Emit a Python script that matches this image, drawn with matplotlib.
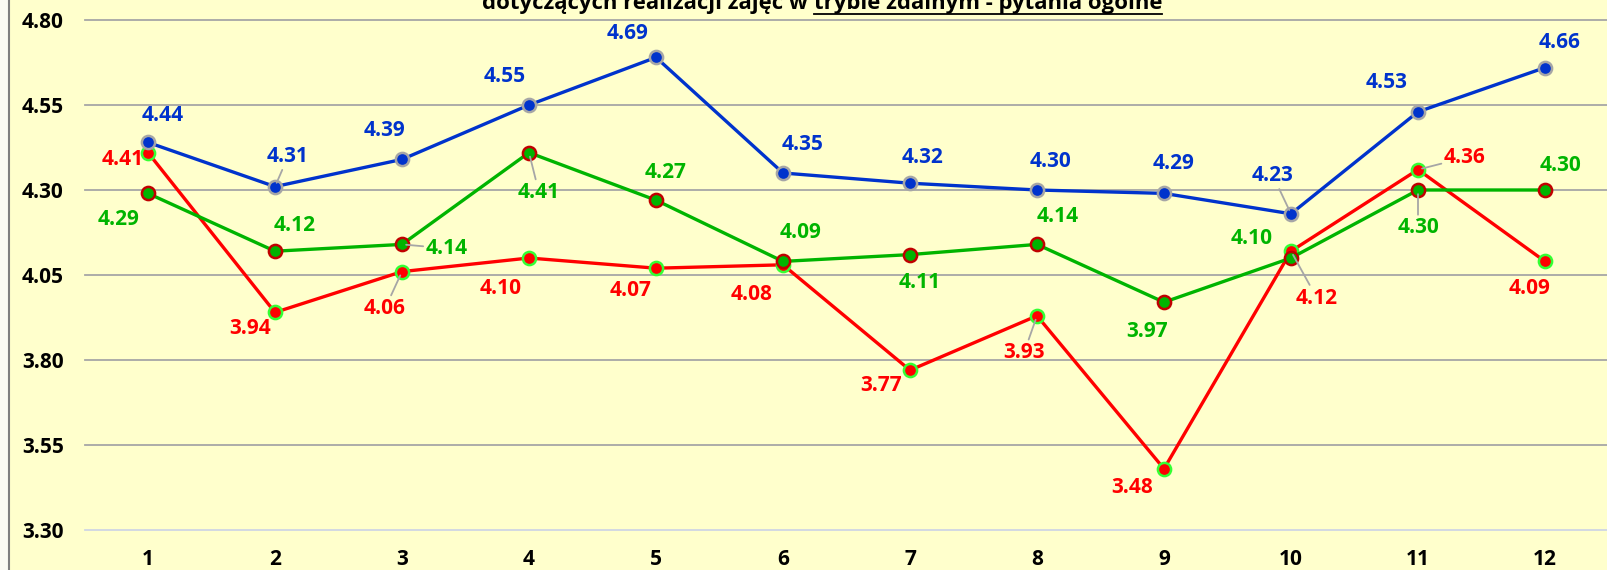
import numpy as np
import matplotlib
matplotlib.use("Agg")
import matplotlib.pyplot as plt
from matplotlib.lines import Line2D
from matplotlib.patches import Rectangle

# data
questions = ["1", "2", "3", "4", "5", "6", "7", "8", "9", "10", "11", "12"]
blue_vals = [4.44, 4.31, 4.39, 4.55, 4.69, 4.35, 4.32, 4.30, 4.29, 4.23, 4.53, 4.66]
green_vals = [4.29, 4.12, 4.14, 4.41, 4.27, 4.09, 4.11, 4.14, 3.97, 4.10, 4.30, 4.30]
red_vals = [4.41, 3.94, 4.06, 4.10, 4.07, 4.08, 3.77, 3.93, 3.48, 4.12, 4.36, 4.09]
y_ticks = [3.30, 3.55, 3.80, 4.05, 4.30, 4.55, 4.80]
title_a = "dotyczących realizacji zajęć w"
title_b = "trybie zdalnym - pytania ogólne"

# label placement (pixels: dx right, dy down) and leader line flags
blue_off = [(15, -27), (13, -30), (-17, -29), (-24, -28), (-28, -24), (20, -28),
            (13, -26), (13, -28), (10, -30), (-18, -38), (-31, -29), (15, -25)]
blue_lead = [0, 1, 0, 0, 0, 0, 0, 0, 0, 1, 0, 0]
green_off = [(-29, 26), (20, -26), (45, 4), (10, 40), (10, -28), (18, -29),
             (10, 28), (21, -28), (-17, 29), (-39, -20), (0, 38), (15, -24)]
green_lead = [0, 0, 1, 1, 0, 0, 0, 0, 0, 0, 1, 0]
red_off = [(-25, 7), (-25, 16), (-17, 37), (-28, 30), (-25, 22), (-31, 30),
           (-29, 15), (-13, 37), (-32, 19), (26, 47), (47, -12), (-15, 27)]
red_lead = [0, 0, 1, 0, 0, 0, 0, 1, 0, 1, 1, 0]

BG = "#FFFFCC"
BLUE = "#0033CC"
GREEN = "#00B400"
RED = "#FF0000"
FONT = "Open Sans"

plt.rcParams['font.family'] = [FONT, 'DejaVu Sans']

W, H = 1607, 570
fig = plt.figure(figsize=(W / 100, H / 100), dpi=100, facecolor=BG)
ax = fig.add_axes([84.5 / W, 40 / H, 1524 / W, 510 / H])
ax.set_facecolor(BG)

x = np.arange(1, len(questions) + 1)
ax.set_xlim(0.5, 12.5)
ax.set_ylim(3.30, 4.80)

for t in y_ticks:
    col = "#CFD6E4" if t == y_ticks[0] else "#A6A6A6"
    ax.axhline(t, color=col, lw=1.3, zorder=1, clip_on=False)

for s in ax.spines.values():
    s.set_visible(False)

ax.set_xticks(x)
ax.set_xticklabels(questions)
ax.set_yticks(y_ticks)
ax.set_yticklabels(["%.2f" % t for t in y_ticks])
ax.tick_params(axis='both', length=0, labelsize=15)
ax.tick_params(axis='x', pad=14)
ax.tick_params(axis='y', pad=15)
for lab in ax.get_xticklabels() + ax.get_yticklabels():
    lab.set_fontweight('bold')


def draw_series(vals, color, face, edge, offs, leads, z):
    ax.plot(x, vals, color=color, lw=2.4, marker='o', ms=9.5,
            markerfacecolor=face, markeredgecolor=edge, markeredgewidth=1.8,
            zorder=z, clip_on=False)
    for xi, v, (dx, dy), ld in zip(x, vals, offs, leads):
        kw = {}
        if ld:
            kw['arrowprops'] = dict(arrowstyle='-', color='#A6A6A6', lw=1.3,
                                    shrinkA=0, shrinkB=3)
        ax.annotate("%.2f" % v, (xi, v), xytext=(dx, -dy),
                    textcoords='offset pixels', ha='center', va='center',
                    fontsize=15, fontweight='bold', color=color,
                    zorder=z + 5, annotation_clip=False, **kw)


draw_series(red_vals, RED, RED, "#33FF33", red_off, red_lead, 3)
draw_series(green_vals, GREEN, GREEN, "#C00000", green_off, green_lead, 4)
draw_series(blue_vals, BLUE, BLUE, "#A6A6A6", blue_off, blue_lead, 5)

# left border like the source sheet
fig.add_artist(Rectangle((0, 0), 7.5 / W, 1, transform=fig.transFigure,
                         facecolor="#FBFBF3", edgecolor='none'))
fig.add_artist(Line2D([8.5 / W, 8.5 / W], [0, 1], transform=fig.transFigure,
                      color="#7F7F7F", lw=1.5))

# title, cut off at the top, second half underlined
base_y = 1 - 9 / H
ta = fig.text(0, base_y, title_a, fontsize=15.9, fontweight='bold', va='baseline')
tb = fig.text(0, base_y, title_b, fontsize=15.9, fontweight='bold', va='baseline')
fig.canvas.draw()
r = fig.canvas.get_renderer()
wa = ta.get_window_extent(r).width
wb = tb.get_window_extent(r).width
gap = 6
start = 822 - (wa + gap + wb) / 2
ta.set_x(start / W)
tb.set_x((start + wa + gap) / W)
uy = 1 - 13.5 / H
fig.add_artist(Line2D([(start + wa + gap) / W, (start + wa + gap + wb) / W], [uy, uy],
                      transform=fig.transFigure, color='black', lw=1.3))

fig.savefig("out.png", dpi=100, facecolor=BG)
